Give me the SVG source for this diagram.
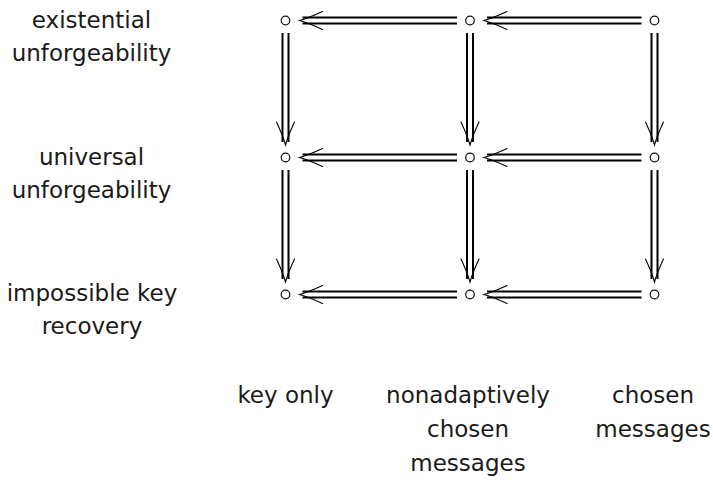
<svg xmlns="http://www.w3.org/2000/svg" xmlns:xlink="http://www.w3.org/1999/xlink" width="713" height="480" viewBox="0 0 713 480">
  <style>
    .lbl { font-family: "DejaVu Sans", "Liberation Sans", sans-serif; font-size: 23px; fill: #1a1a1a; text-anchor: middle; }
    .node { fill: #fff; stroke: #111; stroke-width: 1.2; }
    .shaft { stroke: #000; stroke-width: 2; fill: none; }
    .head { stroke: #000; stroke-width: 1.1; fill: none; stroke-linecap: round; }
  </style>
  <defs>
    <!-- arrowhead pointing left, tip at the origin -->
    <path id="head" class="head" d="M 23,-9 Q 9,-2.5 0,0 Q 9,2.5 23,9"/>
    <!-- double shaft pointing left, tip at origin, length 157.5 -->
    <g id="dblH">
      <path class="shaft" d="M 3,-3 H 157.5 M 3,3 H 157.5"/>
      <use xlink:href="#head"/>
    </g>
    <!-- double shaft pointing down, tip at origin, length 112 -->
    <g id="dblV">
      <path class="shaft" d="M -3,-3 V -112 M 3,-3 V -112"/>
      <use xlink:href="#head" transform="rotate(-90)"/>
    </g>
  </defs>

  <!-- row labels -->
  <g id="row-labels">
    <text class="lbl" x="91.5" y="28">existential</text>
    <text class="lbl" x="91.5" y="61">unforgeability</text>
    <text class="lbl" x="91.5" y="165">universal</text>
    <text class="lbl" x="91.5" y="198">unforgeability</text>
    <text class="lbl" x="92" y="301">impossible key</text>
    <text class="lbl" x="92" y="334">recovery</text>
  </g>

  <!-- column labels -->
  <g id="col-labels">
    <text class="lbl" x="285.5" y="403">key only</text>
    <text class="lbl" x="468" y="403">nonadaptively</text>
    <text class="lbl" x="468" y="437">chosen</text>
    <text class="lbl" x="468" y="471">messages</text>
    <text class="lbl" x="653" y="403">chosen</text>
    <text class="lbl" x="653" y="437">messages</text>
  </g>

  <!-- connectors -->
  <g id="connectors">
    <!-- horizontal: right to left -->
    <use xlink:href="#dblH" transform="translate(299.5,20.5)"/>
    <use xlink:href="#dblH" transform="translate(484,20.5)"/>
    <use xlink:href="#dblH" transform="translate(299.5,157.5)"/>
    <use xlink:href="#dblH" transform="translate(484,157.5)"/>
    <use xlink:href="#dblH" transform="translate(299.5,294.5)"/>
    <use xlink:href="#dblH" transform="translate(484,294.5)"/>
    <!-- vertical: top to bottom -->
    <use xlink:href="#dblV" transform="translate(285.5,145)"/>
    <use xlink:href="#dblV" transform="translate(470,145)"/>
    <use xlink:href="#dblV" transform="translate(654.5,145)"/>
    <use xlink:href="#dblV" transform="translate(285.5,282)"/>
    <use xlink:href="#dblV" transform="translate(470,282)"/>
    <use xlink:href="#dblV" transform="translate(654.5,282)"/>
  </g>

  <!-- nodes -->
  <g id="n11"><circle class="node" cx="285.5" cy="20.5" r="4.3"/></g>
  <g id="n12"><circle class="node" cx="470" cy="20.5" r="4.3"/></g>
  <g id="n13"><circle class="node" cx="654.5" cy="20.5" r="4.3"/></g>
  <g id="n21"><circle class="node" cx="285.5" cy="157.5" r="4.3"/></g>
  <g id="n22"><circle class="node" cx="470" cy="157.5" r="4.3"/></g>
  <g id="n23"><circle class="node" cx="654.5" cy="157.5" r="4.3"/></g>
  <g id="n31"><circle class="node" cx="285.5" cy="294.5" r="4.3"/></g>
  <g id="n32"><circle class="node" cx="470" cy="294.5" r="4.3"/></g>
  <g id="n33"><circle class="node" cx="654.5" cy="294.5" r="4.3"/></g>
</svg>
